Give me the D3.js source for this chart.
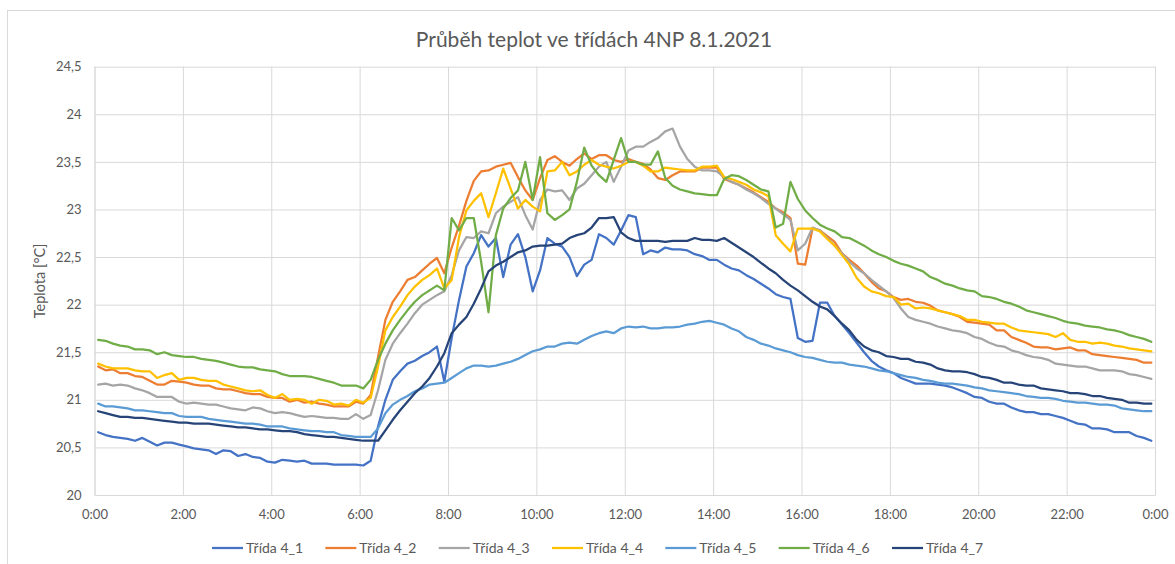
<!DOCTYPE html>
<html>
<head>
<meta charset="utf-8">
<script src="https://cdn.jsdelivr.net/npm/d3@7"></script>
<style>
  body { margin: 0; background: #fff; }
  svg { display: block; }
  text { font-family: Lato, "Open Sans", "Liberation Sans", sans-serif; fill: #595959; }
</style>
</head>
<body>
<svg id="chart" width="1175" height="564"></svg>
<script>
// Temperatures in classrooms on floor 4NP, 8 Jan 2021, one reading every 10 minutes.
const seriesNames = ["Třída 4_1", "Třída 4_2", "Třída 4_3", "Třída 4_4", "Třída 4_5", "Třída 4_6", "Třída 4_7"];

const trida41 = [
  20.66,20.63,20.61,20.60,20.59,20.57,20.60,20.56,20.52,20.55,20.55,20.53,
  20.51,20.49,20.48,20.47,20.43,20.47,20.46,20.41,20.43,20.40,20.39,20.35,
  20.34,20.37,20.36,20.35,20.36,20.33,20.33,20.33,20.32,20.32,20.32,20.32,
  20.31,20.36,20.72,21.00,21.21,21.30,21.38,21.41,21.46,21.50,21.56,21.19,
  21.65,22.05,22.40,22.54,22.73,22.61,22.70,22.29,22.63,22.74,22.50,22.14,
  22.36,22.70,22.64,22.61,22.50,22.30,22.42,22.47,22.74,22.70,22.63,22.78,
  22.94,22.92,22.53,22.57,22.55,22.60,22.58,22.58,22.57,22.53,22.51,22.47,
  22.47,22.42,22.38,22.36,22.31,22.27,22.22,22.17,22.11,22.08,22.06,21.65,
  21.61,21.62,22.02,22.02,21.88,21.79,21.70,21.60,21.50,21.41,21.35,21.31,
  21.28,21.23,21.20,21.17,21.17,21.17,21.16,21.15,21.13,21.10,21.07,21.03,
  21.02,20.98,20.96,20.96,20.92,20.89,20.87,20.87,20.85,20.85,20.83,20.81,
  20.78,20.75,20.74,20.70,20.70,20.69,20.66,20.66,20.66,20.62,20.60,20.57
];

const trida42 = [
  21.35,21.31,21.32,21.28,21.28,21.25,21.24,21.20,21.16,21.16,21.20,21.19,
  21.18,21.16,21.15,21.15,21.12,21.11,21.11,21.09,21.07,21.06,21.06,21.03,
  21.02,21.02,20.98,21.00,20.97,20.98,20.96,20.95,20.93,20.93,20.93,20.98,
  20.96,21.05,21.45,21.84,22.03,22.14,22.26,22.29,22.36,22.43,22.49,22.33,
  22.60,22.83,23.09,23.30,23.40,23.41,23.45,23.47,23.49,23.34,23.20,23.10,
  23.33,23.52,23.56,23.50,23.46,23.53,23.59,23.53,23.57,23.57,23.52,23.50,
  23.53,23.50,23.48,23.42,23.33,23.31,23.36,23.40,23.40,23.40,23.44,23.44,
  23.44,23.32,23.29,23.26,23.22,23.18,23.13,23.08,23.01,22.97,22.91,22.43,
  22.42,22.80,22.78,22.72,22.66,22.54,22.47,22.41,22.33,22.24,22.17,22.14,
  22.08,22.05,22.06,22.03,22.02,21.99,21.94,21.92,21.90,21.87,21.82,21.81,
  21.80,21.79,21.73,21.73,21.66,21.63,21.60,21.56,21.55,21.55,21.53,21.54,
  21.55,21.52,21.52,21.48,21.47,21.46,21.45,21.44,21.43,21.42,21.39,21.39
];

const trida43 = [
  21.16,21.17,21.15,21.16,21.15,21.12,21.10,21.07,21.03,21.03,21.03,20.98,
  20.96,20.97,20.96,20.95,20.95,20.93,20.91,20.90,20.89,20.92,20.91,20.88,
  20.86,20.87,20.86,20.84,20.82,20.83,20.82,20.81,20.81,20.80,20.80,20.85,
  20.80,20.84,21.10,21.42,21.59,21.70,21.80,21.91,22.00,22.05,22.10,22.14,
  22.31,22.57,22.71,22.70,22.77,22.75,22.96,23.03,23.08,23.13,22.94,22.79,
  23.10,23.21,23.19,23.20,23.10,23.22,23.27,23.36,23.45,23.50,23.29,23.45,
  23.62,23.66,23.66,23.71,23.75,23.82,23.85,23.66,23.53,23.45,23.41,23.41,
  23.40,23.34,23.29,23.26,23.21,23.17,23.12,23.06,23.01,22.95,22.89,22.57,
  22.64,22.81,22.78,22.70,22.62,22.54,22.45,22.38,22.33,22.26,22.20,22.14,
  22.07,21.96,21.87,21.84,21.82,21.80,21.77,21.75,21.73,21.72,21.70,21.66,
  21.64,21.60,21.57,21.56,21.52,21.50,21.47,21.45,21.44,21.42,21.38,21.37,
  21.36,21.35,21.35,21.33,21.31,21.31,21.31,21.30,21.27,21.26,21.24,21.22
];

const trida44 = [
  21.38,21.35,21.33,21.33,21.33,21.31,21.30,21.30,21.23,21.26,21.28,21.21,
  21.23,21.23,21.21,21.20,21.20,21.16,21.14,21.12,21.10,21.09,21.10,21.05,
  21.02,21.06,21.00,21.01,21.00,20.96,21.00,20.99,20.95,20.96,20.94,21.00,
  20.97,21.02,21.35,21.73,21.87,21.98,22.10,22.19,22.26,22.31,22.38,22.17,
  22.26,22.71,22.99,23.09,23.17,22.92,23.17,23.43,23.22,23.01,23.10,23.03,
  22.98,23.40,23.41,23.50,23.36,23.40,23.47,23.52,23.47,23.45,23.43,23.46,
  23.50,23.50,23.46,23.40,23.40,23.44,23.43,23.42,23.41,23.41,23.45,23.45,
  23.46,23.34,23.32,23.29,23.26,23.21,23.18,23.14,22.73,22.64,22.56,22.80,
  22.80,22.80,22.77,22.69,22.62,22.52,22.42,22.28,22.19,22.14,22.12,22.09,
  22.08,22.00,22.01,21.96,21.97,21.96,21.94,21.92,21.90,21.88,21.84,21.84,
  21.82,21.81,21.80,21.80,21.76,21.73,21.72,21.71,21.70,21.69,21.66,21.70,
  21.63,21.61,21.61,21.59,21.60,21.59,21.57,21.56,21.54,21.53,21.52,21.51
];

const trida45 = [
  20.96,20.93,20.93,20.92,20.91,20.89,20.89,20.88,20.87,20.86,20.86,20.83,
  20.82,20.82,20.82,20.80,20.79,20.78,20.77,20.76,20.75,20.75,20.74,20.72,
  20.72,20.72,20.70,20.69,20.68,20.67,20.67,20.66,20.66,20.63,20.62,20.61,
  20.61,20.61,20.70,20.86,20.95,21.00,21.04,21.09,21.12,21.16,21.17,21.18,
  21.23,21.28,21.33,21.36,21.36,21.35,21.36,21.38,21.40,21.43,21.47,21.51,
  21.53,21.56,21.56,21.59,21.60,21.59,21.63,21.67,21.70,21.72,21.70,21.75,
  21.77,21.76,21.77,21.75,21.75,21.76,21.76,21.77,21.79,21.80,21.82,21.83,
  21.81,21.79,21.75,21.72,21.66,21.63,21.59,21.57,21.54,21.52,21.50,21.47,
  21.45,21.44,21.42,21.40,21.39,21.39,21.37,21.36,21.35,21.33,21.31,21.30,
  21.28,21.26,21.24,21.23,21.21,21.20,21.18,21.17,21.17,21.16,21.15,21.13,
  21.12,21.10,21.09,21.08,21.07,21.06,21.04,21.03,21.02,21.02,21.01,20.99,
  20.98,20.97,20.97,20.96,20.95,20.95,20.94,20.91,20.90,20.89,20.88,20.88
];

const trida46 = [
  21.63,21.62,21.59,21.57,21.56,21.53,21.53,21.52,21.48,21.50,21.47,21.46,
  21.45,21.45,21.43,21.42,21.41,21.39,21.37,21.35,21.34,21.34,21.32,21.31,
  21.30,21.27,21.25,21.25,21.25,21.24,21.22,21.20,21.18,21.15,21.15,21.15,
  21.12,21.21,21.42,21.59,21.73,21.84,21.94,22.03,22.10,22.15,22.20,22.15,
  22.91,22.78,22.91,22.91,22.45,21.92,22.73,23.01,23.12,23.20,23.50,23.10,
  23.55,22.96,22.89,22.94,23.00,23.29,23.65,23.46,23.36,23.29,23.52,23.75,
  23.50,23.50,23.47,23.47,23.61,23.33,23.25,23.21,23.19,23.17,23.16,23.15,
  23.15,23.32,23.36,23.35,23.31,23.26,23.21,23.19,22.81,22.85,23.29,23.11,
  22.99,22.91,22.84,22.80,22.77,22.71,22.70,22.66,22.62,22.57,22.53,22.50,
  22.46,22.43,22.41,22.38,22.35,22.29,22.26,22.22,22.20,22.17,22.15,22.14,
  22.09,22.08,22.06,22.03,22.01,21.98,21.94,21.92,21.90,21.88,21.86,21.83,
  21.81,21.80,21.78,21.77,21.76,21.74,21.73,21.71,21.68,21.66,21.64,21.61
];

const trida47 = [
  20.88,20.86,20.84,20.82,20.82,20.81,20.81,20.80,20.79,20.78,20.77,20.76,
  20.76,20.75,20.75,20.75,20.74,20.73,20.72,20.71,20.71,20.70,20.69,20.69,
  20.68,20.67,20.67,20.66,20.64,20.63,20.62,20.61,20.61,20.60,20.59,20.58,
  20.57,20.57,20.57,20.68,20.79,20.89,20.98,21.07,21.14,21.23,21.35,21.49,
  21.70,21.79,21.87,22.01,22.17,22.35,22.41,22.45,22.50,22.55,22.57,22.61,
  22.62,22.62,22.63,22.64,22.70,22.73,22.75,22.81,22.91,22.91,22.92,22.76,
  22.70,22.67,22.67,22.67,22.67,22.66,22.67,22.67,22.67,22.70,22.68,22.68,
  22.67,22.70,22.65,22.60,22.55,22.50,22.44,22.38,22.33,22.26,22.20,22.15,
  22.09,22.03,21.98,21.95,21.88,21.80,21.73,21.63,21.56,21.52,21.50,21.46,
  21.45,21.43,21.43,21.40,21.39,21.37,21.33,21.31,21.30,21.30,21.29,21.27,
  21.24,21.23,21.21,21.18,21.18,21.16,21.15,21.15,21.12,21.11,21.10,21.09,
  21.07,21.07,21.06,21.04,21.04,21.02,21.01,21.00,20.97,20.97,20.96,20.96
];

const xTickLabels = ["0:00","2:00","4:00","6:00","8:00","10:00","12:00","14:00","16:00","18:00","20:00","22:00","0:00"];
const yTickValues = [20, 20.5, 21, 21.5, 22, 22.5, 23, 23.5, 24, 24.5];
const yTickLabels = ["20", "20,5", "21", "21,5", "22", "22,5", "23", "23,5", "24", "24,5"];

const seriesValues = [trida41, trida42, trida43, trida44, trida45, trida46, trida47];
const seriesColors = ["#4472C4", "#ED7D31", "#A5A5A5", "#FFC000", "#5B9BD5", "#70AD47", "#264478"];

// Readings are stamped at the middle of each 10-minute interval.
const dayStart = new Date(2021, 0, 8, 0, 0);
const dayEnd = new Date(2021, 0, 9, 0, 0);
const readingTimes = d3.range(trida41.length).map(i => d3.timeMinute.offset(dayStart, 5 + 10 * i));

const svg = d3.select("#chart");
const plot = { left: 94.5, right: 1155, top: 66.7, bottom: 495 };

// chart frame
svg.append("rect")
  .attr("x", 7.5).attr("y", 10.5)
  .attr("width", 1174).attr("height", 600)
  .attr("fill", "#fff").attr("stroke", "#d9d9d9");

const x = d3.scaleTime().domain([dayStart, dayEnd]).range([plot.left, plot.right]);
const y = d3.scaleLinear().domain([20, 24.5]).range([plot.bottom, plot.top]);

// horizontal gridlines + value labels
const yAxis = svg.append("g")
  .attr("transform", `translate(${plot.left},0)`)
  .call(d3.axisLeft(y)
    .tickValues(yTickValues)
    .tickSize(-(plot.right - plot.left))
    .tickPadding(13)
    .tickFormat((d, i) => yTickLabels[i]));
yAxis.select(".domain").remove();
yAxis.selectAll("line").attr("stroke", "#d9d9d9").attr("stroke-width", 1);
yAxis.selectAll("text").style("font-size", "13px").attr("fill", "#595959");

// vertical gridlines + time labels
const xAxis = svg.append("g")
  .attr("transform", `translate(0,${plot.bottom})`)
  .call(d3.axisBottom(x)
    .ticks(d3.timeHour.every(2))
    .tickSize(-(plot.bottom - plot.top))
    .tickPadding(15)
    .tickFormat((d, i) => xTickLabels[i]));
xAxis.select(".domain").attr("stroke", "#d9d9d9");
xAxis.selectAll("line").attr("stroke", "#d9d9d9").attr("stroke-width", 1);
xAxis.selectAll("text").style("font-size", "13px").attr("fill", "#595959");

// temperature lines
const line = d3.line()
  .x((d, i) => x(readingTimes[i]))
  .y(d => y(d));

svg.append("g")
  .selectAll("path")
  .data(seriesValues)
  .join("path")
  .attr("d", line)
  .attr("fill", "none")
  .attr("stroke", (d, i) => seriesColors[i])
  .attr("stroke-width", 2.25)
  .attr("stroke-linejoin", "round")
  .attr("stroke-linecap", "round");

// title
svg.append("text")
  .attr("x", 594).attr("y", 47)
  .attr("text-anchor", "middle")
  .style("font-size", "21px")
  .text("Průběh teplot ve třídách 4NP 8.1.2021");

// axis title
svg.append("text")
  .attr("transform", `translate(45,${(plot.top + plot.bottom) / 2}) rotate(-90)`)
  .attr("text-anchor", "middle")
  .style("font-size", "14.5px")
  .text("Teplota [°C]");

// legend
const legendX = d3.scalePoint().domain(seriesNames).range([212, 892]);
const legend = svg.append("g")
  .selectAll("g")
  .data(seriesNames)
  .join("g")
  .attr("transform", d => `translate(${legendX(d)},548)`);
legend.append("line")
  .attr("x1", 0).attr("x2", 31)
  .attr("stroke", (d, i) => seriesColors[i])
  .attr("stroke-width", 2.25);
legend.append("text")
  .attr("x", 34).attr("dy", "0.35em")
  .style("font-size", "14px")
  .text(d => d);
</script>
</body>
</html>
